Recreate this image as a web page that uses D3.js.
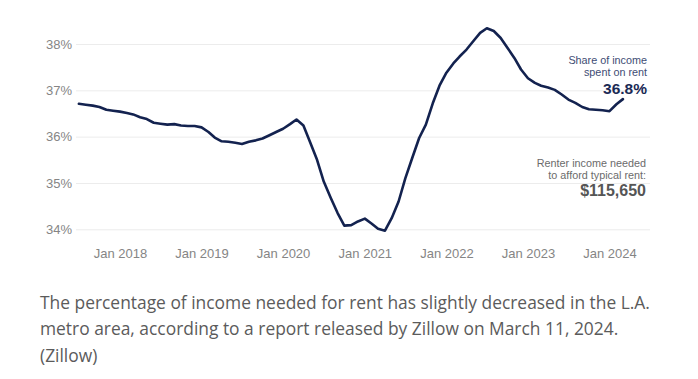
<!DOCTYPE html>
<html>
<head>
<meta charset="utf-8">
<title>rent share</title>
<style>
  body { margin: 0; background: #fff; }
  svg { display: block; }
</style>
</head>
<body>
<svg class="chart"></svg>
<script src="https://cdn.jsdelivr.net/npm/d3@7"></script>
<script>
// monthly share of income spent on rent, Jul 2017 .. Mar 2024
var startMonth = new Date(2017, 6, 1);
var shareValues = [
  36.71, 36.69, 36.67, 36.64, 36.58, 36.56,
  36.54, 36.51, 36.48, 36.42, 36.38, 36.30, 36.28, 36.26, 36.27, 36.24, 36.23, 36.23,
  36.20, 36.10, 35.98, 35.90, 35.89, 35.87, 35.84, 35.89, 35.92, 35.96, 36.03, 36.10,
  36.17, 36.27, 36.37, 36.24, 35.88, 35.50, 35.03, 34.68, 34.35, 34.08, 34.09, 34.17,
  34.23, 34.12, 34.01, 33.97, 34.24, 34.60, 35.10, 35.54, 35.97, 36.26, 36.72, 37.10,
  37.38, 37.58, 37.73, 37.88, 38.06, 38.24, 38.34, 38.28, 38.13, 37.92, 37.70, 37.45,
  37.26, 37.16, 37.10, 37.06, 37.01, 36.91, 36.80, 36.73, 36.64, 36.59, 36.58, 36.57,
  36.55, 36.70, 36.81
];
var yTicks = [34, 35, 36, 37, 38];
var xTickYears = [2018, 2019, 2020, 2021, 2022, 2023, 2024];
var shareLabel = ["Share of income", "spent on rent"];
var shareValueLabel = "36.8%";
var incomeLabel = ["Renter income needed", "to afford typical rent:"];
var incomeValueLabel = "$115,650";
var captionLines = [
  "The percentage of income needed for rent has slightly decreased in the L.A.",
  "metro area, according to a report released by Zillow on March 11, 2024.",
  "(Zillow)"
];

var data = shareValues.map(function(v, i) {
  return { date: d3.timeMonth.offset(startMonth, i), value: v };
});

var width = 698, height = 379;
var svg = d3.select('.chart').attr('width', width).attr('height', height);

var x = d3.scaleTime()
  .domain([new Date(2018, 0, 1), new Date(2024, 0, 1)])
  .range([120, 609.5]);
var y = d3.scaleLinear()
  .domain([34, 38])
  .range([229.3, 44]);

// gridlines
svg.append('g')
  .selectAll('line')
  .data(yTicks)
  .enter()
  .append('line')
  .attr('x1', 76)
  .attr('x2', 650)
  .attr('y1', function(d) { return y(d) + 0.5; })
  .attr('y2', function(d) { return y(d) + 0.5; })
  .attr('stroke', '#ececec')
  .attr('stroke-width', 1);

// y axis labels
var yAxis = d3.axisLeft(y)
  .tickValues(yTicks)
  .tickSize(0)
  .tickPadding(0)
  .tickFormat(function(d) { return d + '%'; });
svg.append('g')
  .attr('transform', 'translate(72,0)')
  .call(yAxis)
  .call(function(g) { g.select('.domain').remove(); })
  .selectAll('text')
  .attr('font-family', 'Liberation Sans, Arial, sans-serif')
  .attr('font-size', 13)
  .attr('fill', '#858585');

// x axis labels
var xAxis = d3.axisBottom(x)
  .tickValues(xTickYears.map(function(yr) { return new Date(yr, 0, 1); }))
  .tickSize(0)
  .tickPadding(0)
  .tickFormat(d3.timeFormat('Jan %Y'));
svg.append('g')
  .attr('transform', 'translate(0,249)')
  .call(xAxis)
  .call(function(g) { g.select('.domain').remove(); })
  .selectAll('text')
  .attr('font-family', 'Liberation Sans, Arial, sans-serif')
  .attr('font-size', 13)
  .attr('fill', '#858585');

// line
var line = d3.line()
  .x(function(d) { return x(d.date); })
  .y(function(d) { return y(d.value); });
svg.append('path')
  .datum(data)
  .attr('d', line)
  .attr('fill', 'none')
  .attr('stroke', '#13224f')
  .attr('stroke-width', 2.6)
  .attr('stroke-linejoin', 'round')
  .attr('stroke-linecap', 'round');

// annotations
var ann = svg.append('g')
  .attr('font-family', 'Liberation Sans, Arial, sans-serif')
  .attr('text-anchor', 'end');
ann.selectAll('.share')
  .data(shareLabel)
  .enter()
  .append('text')
  .attr('x', 647)
  .attr('y', function(d, i) { return 64 + i * 12; })
  .attr('font-size', 10.8)
  .attr('fill', '#3e4d74')
  .text(function(d) { return d; });
ann.append('text')
  .attr('x', 647)
  .attr('y', 94)
  .attr('font-size', 15.5)
  .attr('font-weight', 'bold')
  .attr('fill', '#1b2a55')
  .text(shareValueLabel);
ann.selectAll('.income')
  .data(incomeLabel)
  .enter()
  .append('text')
  .attr('x', 646)
  .attr('y', function(d, i) { return 167 + i * 12; })
  .attr('font-size', 10.8)
  .attr('fill', '#6b6b6b')
  .text(function(d) { return d; });
ann.append('text')
  .attr('x', 646)
  .attr('y', 196)
  .attr('font-size', 16)
  .attr('font-weight', 'bold')
  .attr('fill', '#555555')
  .text(incomeValueLabel);

// caption
svg.append('g')
  .selectAll('text')
  .data(captionLines)
  .enter()
  .append('text')
  .attr('x', 40)
  .attr('y', function(d, i) { return 308.5 + i * 26.5; })
  .attr('font-family', 'Open Sans, sans-serif')
  .attr('font-size', 17.4)
  .attr('fill', '#5b5b5b')
  .text(function(d) { return d; });
</script>
</body>
</html>
